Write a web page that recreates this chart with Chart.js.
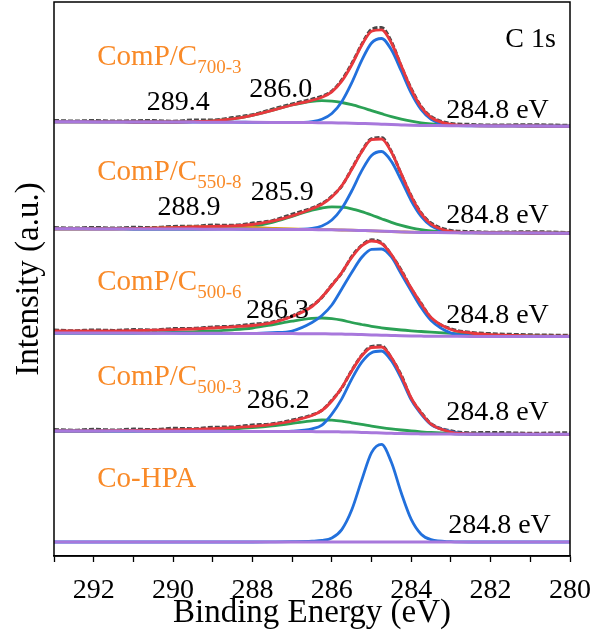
<!DOCTYPE html>
<html>
<head>
<meta charset="utf-8">
<title>C 1s XPS</title>
<script src="https://cdn.jsdelivr.net/npm/chart.js@4.4.1/dist/chart.umd.min.js"></script>
<style>
  body { margin: 0; background: #fff; }
  #xpsChart { display: block; }
</style>
</head>
<body>
<canvas id="xpsChart" width="595" height="632"></canvas>
<script>
// binding energy grid (eV), high to low
const energy = [293, 292.5, 292, 291.5, 291, 290.5, 290, 289.5, 289, 288.5, 288, 287.5, 287, 286.5, 286.25, 286,
    285.75, 285.5, 285.25, 285, 284.75, 284.5, 284.25, 284, 283.75, 283.5, 283, 282.5, 282, 281, 280];

// vertical shift of each stacked spectrum (bottom to top)
const stackOffset = [14, 123, 221, 325, 432];

// Co-HPA
const bgCoHPA   = [0,0,0,0,0,0,0,0,0,0,0,0,0,0,0,0,0,0,0,0,0,0,0,0,0,0,0,0,0,0,0];
const mainCoHPA = [0,0,0,0,0,0,0,0,0,0,0,0.1,0.3,0.8,1.5,4.0,12.4,31.9,61.6,89.4,97.6,79.7,49.0,22.6,7.8,2.3,0.3,0,0,0,0];

// ComP/C 500-3
const bg5003   = [2.0,2.0,1.9,1.9,1.9,1.8,1.8,1.7,1.7,1.6,1.6,1.5,1.5,1.4,1.3,1.3,1.1,0.9,0.6,0.3,0.0,-0.3,-0.6,-0.8,-0.9,-1.0,-1.1,-1.2,-1.2,-1.3,-1.3];
const main5003 = [2.0,2.0,1.9,1.9,1.9,1.8,1.8,1.7,1.7,1.6,1.6,1.5,1.9,4.2,7.8,18.8,34.1,53.9,70.6,80.3,82.0,72.2,54.4,33.2,19.0,8.5,1.5,-1.1,-1.2,-1.3,-1.3];
const c2_5003  = [2.0,2.0,1.9,1.9,1.9,1.8,2.0,2.4,3.1,4.1,5.4,7.2,9.6,12.2,13.0,12.8,11.8,10.2,8.6,6.9,5.4,4.1,3.0,2.0,1.2,0.5,-0.5,-1.0,-1.2,-1.3,-1.3];
const fit5003  = [2.2,2.2,2.2,2.3,2.5,2.8,3.2,3.6,4.3,5.3,6.6,8.6,12.0,17.5,22.5,32.0,45.5,62.0,77.0,85.5,86.0,75.5,57.0,35.0,20.0,8.8,1.0,-0.9,-1.1,-1.2,-1.3];
const raw5003  = [3.6,2.8,3.7,3.0,3.9,3.4,4.7,4.3,5.8,6.0,8.1,9.2,13.0,18.1,22.8,32.8,45.1,62.7,77.5,86.6,87.2,75.0,57.8,34.4,20.6,9.3,2.2,0.3,0.6,-0.2,0.3];

// ComP/C 500-6
const bg5006   = [2.0,2.0,1.9,1.9,1.9,1.8,1.8,1.7,1.7,1.6,1.6,1.5,1.4,1.3,1.2,1.1,0.9,0.7,0.4,0.1,-0.2,-0.5,-0.8,-1.0,-1.1,-1.2,-1.3,-1.4,-1.4,-1.5,-1.5];
const main5006 = [2.0,2.0,1.9,1.9,1.9,1.8,1.8,1.7,1.7,1.6,1.6,2.3,4.0,12.5,19.5,30.0,46.0,62.5,77.5,85.7,86.0,78.0,61.0,44.0,27.5,14.5,2.0,-0.6,-1.2,-1.4,-1.5];
const c2_5006  = [2.0,2.0,1.9,1.9,2.0,2.2,2.6,3.2,4.0,5.2,7.0,10.2,13.8,16.6,17.0,16.4,14.8,12.5,10.5,8.6,7.2,6.0,5.0,4.2,3.5,2.8,1.6,0.6,-0.2,-1.0,-1.4];
const fit5006  = [4.0,4.0,4.1,4.2,4.4,4.8,5.3,6.0,7.0,8.2,9.5,12.4,18.5,28.5,38.0,49.5,62.5,77.5,89.0,94.0,91.5,80.5,64.0,47.0,31.0,17.5,5.5,2.0,0.3,-0.8,-1.2];
const raw5006  = [5.0,4.2,5.1,4.6,5.4,5.0,6.4,6.6,8.1,8.8,10.8,13.0,19.2,29.4,37.6,50.3,62.0,78.4,89.6,95.2,92.4,80.0,64.8,46.3,31.6,17.0,6.2,2.6,1.4,0.2,-0.3];

// ComP/C 550-8
const bg5508   = [2.2,2.2,2.1,2.1,2.0,2.0,1.9,1.9,1.8,1.8,1.7,1.6,1.5,1.4,1.3,1.2,1.0,0.8,0.5,0.2,-0.2,-0.6,-0.9,-1.2,-1.4,-1.5,-1.7,-1.8,-1.9,-2.0,-2.2];
const main5508 = [2.2,2.2,2.1,2.1,2.0,2.0,1.9,1.9,1.8,1.8,1.7,1.6,1.5,2.6,5.0,11.0,22.5,40.0,60.1,75.6,79.5,69.6,50.6,30.3,14.7,5.3,-1.0,-1.8,-1.9,-2.0,-2.2];
const c2_5508  = [2.2,2.2,2.1,2.1,2.0,2.0,1.9,2.0,2.1,2.8,4.7,8.7,14.7,20.9,23.0,24.1,23.8,22.2,19.4,16.0,12.3,8.7,5.6,3.1,1.3,0.1,-1.2,-1.7,-1.9,-2.0,-2.2];
const c3_5508  = [2.2,2.2,2.1,2.2,2.4,2.8,3.4,4.0,4.3,4.1,3.5,2.7,2.0,1.6,1.4,1.3,1.0,0.8,0.5,0.2,-0.2,-0.6,-0.9,-1.2,-1.4,-1.5,-1.7,-1.8,-1.9,-2.0,-2.2];
const fit5508  = [2.2,2.2,2.1,2.2,2.4,2.8,3.4,4.1,4.6,5.1,6.5,9.8,15.2,22.3,26.8,34.0,45.3,61.4,79.0,91.4,92.0,78.9,57.1,34.6,17.4,6.9,-0.5,-1.7,-1.9,-2.0,-2.2];
const raw5508  = [3.5,2.9,3.6,3.0,3.7,3.5,4.6,4.8,5.9,5.8,7.9,10.4,16.8,23.1,27.5,34.8,45.0,62.2,79.6,92.3,93.4,79.6,56.6,35.1,18.0,8.0,0.6,-0.5,-1.2,-0.7,-1.5];

// ComP/C 700-3
const bg7003   = [2.2,2.2,2.1,2.1,2.0,2.0,1.9,1.9,1.8,1.8,1.7,1.6,1.5,1.4,1.3,1.2,1.0,0.8,0.5,0.2,-0.2,-0.6,-0.9,-1.2,-1.4,-1.5,-1.7,-1.8,-1.9,-2.0,-2.2];
const main7003 = [2.2,2.2,2.1,2.1,2.0,2.0,1.9,1.9,1.8,1.8,1.7,1.6,1.5,2.4,4.7,10.5,22.3,41.1,63.4,81.0,85.5,74.2,53.0,30.8,14.3,4.8,-1.1,-1.8,-1.9,-2.0,-2.2];
const c2_7003  = [2.2,2.2,2.1,2.1,2.0,2.0,2.0,2.4,3.2,5.2,8.7,13.7,19.0,22.7,23.3,22.9,21.5,19.3,16.5,13.4,10.3,7.3,4.8,2.8,1.2,0.2,-1.1,-1.6,-1.9,-2.0,-2.2];
const fit7003  = [2.2,2.2,2.1,2.1,2.0,2.0,2.0,2.4,3.2,5.2,8.7,13.7,19.0,23.7,26.7,32.2,42.8,59.0,78.5,92.8,94.2,81.0,58.2,34.6,16.9,6.5,-0.5,-1.6,-1.9,-2.0,-2.2];
const raw7003  = [3.6,3.0,3.5,2.9,3.3,3.4,2.8,3.9,4.0,6.4,9.4,14.8,20.1,24.9,27.8,32.9,44.0,60.2,79.4,94.6,96.6,82.4,57.6,35.4,17.6,7.6,0.6,-0.4,-1.1,-0.7,-1.4];

const sampleNames = ['Co-HPA', 'ComP/C', 'ComP/C', 'ComP/C', 'ComP/C'];
const sampleSubs = ['', '500-3', '500-6', '550-8', '700-3'];
const xTickLabels = [292, 290, 288, 286, 284, 282, 280];

document.addEventListener("DOMContentLoaded", function () {
    const SERIF = '"Liberation Serif", "Times New Roman", serif';
    const colors = {
        raw: '#474747', fit: '#e8383d', main: '#2270dc',
        c2: '#2ba155', c3: '#d6a11c', bg: '#a878dc', label: '#f98a28'
    };

    const panels = [
        { bg: bgCoHPA, main: mainCoHPA },
        { bg: bg5003, main: main5003, c2: c2_5003, fit: fit5003, raw: raw5003 },
        { bg: bg5006, main: main5006, c2: c2_5006, fit: fit5006, raw: raw5006 },
        { bg: bg5508, main: main5508, c2: c2_5508, c3: c3_5508, fit: fit5508, raw: raw5508 },
        { bg: bg7003, main: main7003, c2: c2_7003, fit: fit7003, raw: raw7003 }
    ];

    // lower order = drawn on top
    const layers = [
        { key: 'raw', order: 6, width: 3, dash: [5, 2] },
        { key: 'c3', order: 5, width: 2.8 },
        { key: 'c2', order: 5, width: 2.8 },
        { key: 'main', order: 4, width: 2.8 },
        { key: 'fit', order: 3, width: 2.8 },
        { key: 'bg', order: 2, width: 3 }
    ];

    const datasets = [];
    panels.forEach(function (p, i) {
        layers.forEach(function (l) {
            if (!p[l.key]) return;
            datasets.push({
                label: sampleNames[i] + ' ' + l.key,
                data: energy.map((e, j) => ({ x: e, y: stackOffset[i] + p[l.key][j] })),
                borderColor: colors[l.key],
                borderWidth: l.width,
                borderDash: l.dash || [],
                pointRadius: 0,
                fill: false,
                cubicInterpolationMode: 'monotone',
                borderJoinStyle: 'round',
                order: l.order
            });
        });
    });

    // text annotations in data units (eV, a.u.)
    const notes = [
        { text: 'C 1s', x: 281.63, y: 509, align: 'left' },
        { text: '289.4', x: 289.87, y: 446, align: 'center' },
        { text: '286.0', x: 287.29, y: 459, align: 'center' },
        { text: '284.8 eV', x: 283.12, y: 438, align: 'left' },
        { text: '288.9', x: 289.6, y: 341, align: 'center' },
        { text: '285.9', x: 287.25, y: 356, align: 'center' },
        { text: '284.8 eV', x: 283.12, y: 333, align: 'left' },
        { text: '286.3', x: 287.37, y: 238, align: 'center' },
        { text: '284.8 eV', x: 283.12, y: 233, align: 'left' },
        { text: '286.2', x: 287.35, y: 148, align: 'center' },
        { text: '284.8 eV', x: 283.12, y: 136, align: 'left' },
        { text: '284.8 eV', x: 283.07, y: 23, align: 'left' }
    ];
    const nameY = [69, 171, 266, 376, 491];

    const decor = {
        id: 'decor',
        afterDraw(chart) {
            const c = chart.ctx, a = chart.chartArea;
            const xs = chart.scales.x, ys = chart.scales.y;
            c.save();
            // frame
            c.strokeStyle = '#000';
            c.lineWidth = 1.5;
            c.strokeRect(a.left, a.top, a.right - a.left, a.bottom - a.top);

            c.textBaseline = 'alphabetic';
            c.fillStyle = '#000';
            c.font = '28px ' + SERIF;
            notes.forEach(function (n) {
                c.textAlign = n.align;
                c.fillText(n.text, xs.getPixelForValue(n.x), ys.getPixelForValue(n.y));
            });

            // sample names with subscripts
            c.fillStyle = colors.label;
            c.textAlign = 'left';
            sampleNames.forEach(function (name, i) {
                const px = xs.getPixelForValue(291.91), py = ys.getPixelForValue(nameY[i]);
                c.font = '29px ' + SERIF;
                c.fillText(name, px, py);
                if (sampleSubs[i]) {
                    const w = c.measureText(name).width;
                    c.font = '19px ' + SERIF;
                    c.fillText(sampleSubs[i], px + w, py + 8);
                }
            });

            // axis titles
            c.fillStyle = '#000';
            c.font = '33px ' + SERIF;
            c.textAlign = 'center';
            c.fillText('Binding Energy (eV)', (a.left + a.right) / 2, 622);
            c.translate(38, (a.top + a.bottom) / 2);
            c.rotate(-Math.PI / 2);
            c.fillText('Intensity (a.u.)', 0, 0);
            c.restore();
        }
    };

    const ctx = document.getElementById('xpsChart').getContext('2d');
    new Chart(ctx, {
        type: 'line',
        data: { datasets: datasets },
        options: {
            responsive: false,
            animation: false,
            events: [],
            layout: { padding: { left: 54, right: 25, top: 2, bottom: 0 } },
            plugins: { legend: { display: false }, tooltip: { enabled: false } },
            scales: {
                x: {
                    type: 'linear',
                    reverse: true,
                    min: 280,
                    max: 293,
                    afterFit: function (scale) {
                        scale.height = 76;
                        scale.paddingLeft = 0;
                        scale.paddingRight = 0;
                    },
                    border: { display: true, color: '#000', width: 1.5 },
                    grid: { display: true, drawOnChartArea: false, drawTicks: true, tickLength: 6, tickWidth: 1.3, tickColor: '#000' },
                    ticks: {
                        stepSize: 1,
                        autoSkip: false,
                        maxRotation: 0,
                        padding: 12,
                        color: '#000',
                        font: { family: SERIF, size: 28 },
                        callback: (v) => xTickLabels.includes(v) ? v : ''
                    }
                },
                y: { display: false, min: 0, max: 554 }
            }
        },
        plugins: [decor]
    });
});
</script>
</body>
</html>
